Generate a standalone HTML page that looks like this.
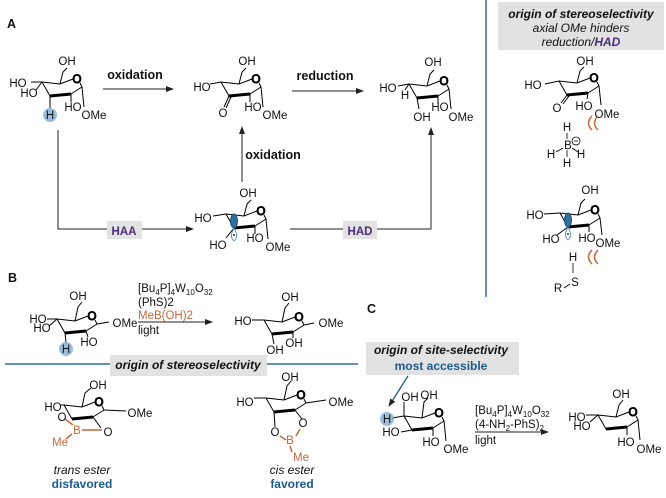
<!DOCTYPE html>
<html><head><meta charset="utf-8"><style>
html,body{margin:0;padding:0;background:#fff;}
svg{display:block;}
text{font-family:"Liberation Sans",Arial,sans-serif;font-size:11.5px;fill:#111;}
.b{font-weight:bold;font-size:12.5px;}
.m{text-anchor:middle;}
.or{fill:#c0693a;}
.bl{fill:#1d5a8c;font-weight:bold;}
.pu{fill:#4a2c7e;font-weight:bold;}
.bi{font-weight:bold;font-style:italic;}
.it{font-style:italic;}
</style></head><body>
<svg width="666" height="498" viewBox="0 0 666 498" xmlns="http://www.w3.org/2000/svg">
<defs>
<g id="ch">
<path d="M0,0L8,14M29,12L40,5L38,1M31,-3L18,2L0,0" fill="none" stroke="#000" stroke-width="1"/>
<path d="M8,14L29,12" stroke="#000" stroke-width="3"/>
<text x="35" y="1" class="m">O</text>
</g>
<marker id="ar" markerWidth="8" markerHeight="6" refX="7" refY="3" orient="auto" markerUnits="userSpaceOnUse"><path d="M0,0L8,3L0,6z" fill="#222"/></marker>
</defs>

<!-- Section A -->
<text x="7" y="28" class="b">A</text>

<!-- A1 -->
<g transform="translate(42,82)" stroke="#000" fill="none">
<use href="#ch"/>
<path d="M18,2L21,-10L25,-14M0,0L-11,0M0,0L-6,8M8,14L8,26M29,12L29,20M40,5L42,25"/>
</g>
<circle cx="50" cy="115" r="7" fill="#7eaed0" opacity="0.8"/>
<text x="67" y="65" class="m">OH</text><text x="18" y="87" class="m">HO</text><text x="29" y="97" class="m">HO</text>
<text x="50" y="119" class="m">H</text><text x="73" y="111" class="m">HO</text><text x="94" y="119" class="m">OMe</text>

<text x="135" y="79" class="b m">oxidation</text>
<line x1="103" y1="89" x2="173" y2="89" stroke="#222" marker-end="url(#ar)"/>

<!-- A2 -->
<g transform="translate(221,82)" stroke="#000" fill="none">
<use href="#ch"/>
<path d="M18,2L21,-10L25,-14M0,0L-11,2M8,14L3,25M10,15L5,26M29,12L29,20M40,5L42,25"/>
</g>
<text x="247" y="65" class="m">OH</text><text x="202" y="91" class="m">HO</text><text x="223" y="117" class="m">O</text>
<text x="253" y="111" class="m">HO</text><text x="275" y="119" class="m">OMe</text>

<text x="325" y="80" class="b m">reduction</text>
<line x1="292" y1="91" x2="363" y2="91" stroke="#222" marker-end="url(#ar)"/>

<!-- A3 -->
<g transform="translate(409,84)" stroke="#000" fill="none">
<use href="#ch"/>
<path d="M18,2L21,-10L25,-14M0,0L-11,2M0,0L-4,6M8,14L10,25M29,12L29,20M40,5L42,25"/>
</g>
<text x="433" y="66" class="m">OH</text><text x="388" y="92" class="m">HO</text><text x="405" y="99" class="m">H</text>
<text x="422" y="121" class="m">OH</text><text x="440" y="111" class="m">HO</text><text x="461" y="121" class="m">OMe</text>

<!-- vertical oxidation -->
<line x1="242" y1="182" x2="242" y2="127" stroke="#222" marker-end="url(#ar)"/>
<text x="273" y="159" class="b m">oxidation</text>

<!-- HAA path -->
<path d="M58,130L58,229L193,229" fill="none" stroke="#222" marker-end="url(#ar)"/>
<rect x="107" y="221" width="35" height="18" fill="#e2e2e2"/>
<text x="124" y="235" class="pu m">HAA</text>

<!-- A4 -->
<g transform="translate(226,214)" stroke="#000" fill="none">
<use href="#ch"/>
<path d="M18,2L21,-10L25,-14M0,0L-13,2M8,14L0,24M29,12L29,20M40,5L42,25"/>
<ellipse cx="8" cy="7" rx="3.5" ry="7" fill="#2f6f9f" stroke="#1d4f77"/>
<path d="M8,14 Q3,23 8,27 Q13,23 8,14" stroke="#3b82b8" stroke-width="0.8"/>
</g>
<circle cx="234" cy="235" r="0.9" fill="#000"/>
<text x="248" y="197" class="m">OH</text><text x="203" y="222" class="m">HO</text><text x="218" y="249" class="m">HO</text>
<text x="255" y="242" class="m">HO</text><text x="278" y="251" class="m">OMe</text>

<!-- HAD path -->
<path d="M290,229L431,229L431,128" fill="none" stroke="#222" marker-end="url(#ar)"/>
<rect x="343" y="221" width="34" height="18" fill="#e2e2e2"/>
<text x="360" y="235" class="pu m">HAD</text>

<!-- vertical blue line -->
<line x1="486" y1="0" x2="486" y2="297" stroke="#2e6f9a" stroke-width="1.5"/>

<!-- right panel -->
<rect x="498" y="2" width="166" height="48" fill="#e2e2e2"/>
<text x="581" y="18" class="bi m" style="font-size:12px">origin of stereoselectivity</text>
<text x="581" y="32" class="it m" style="font-size:12px">axial OMe hinders</text>
<text x="581" y="46" class="it m" style="font-size:12px">reduction/<tspan class="pu">HAD</tspan></text>

<g transform="translate(559,81)" stroke="#000" fill="none">
<use href="#ch"/>
<path d="M18,2L21,-10L25,-14M0,0L-14,3M8,14L2,22M10,15L4,23M29,12L28,18M40,5L42,24"/>
</g>
<text x="585" y="65" class="m">OH</text><text x="533" y="89" class="m">HO</text><text x="557" y="112" class="m">O</text>
<text x="584" y="110" class="m">HO</text><text x="607" y="118" class="m">OMe</text>
<path d="M592,116Q585,123 592,130M598,116Q591,123 598,130" fill="none" stroke="#c0693a" stroke-width="1.5"/>
<text x="567" y="131" class="m">H</text><text x="568" y="149" class="m">B</text>
<circle cx="576" cy="141" r="4" fill="none" stroke="#000" stroke-width="0.8"/><line x1="574" y1="141" x2="578" y2="141" stroke="#000" stroke-width="0.8"/>
<text x="551" y="158" class="m">H</text><text x="581" y="158" class="m">H</text><text x="567" y="167" class="m">H</text>
<path d="M567,133L567,139M567,150L567,157M563,148L556,152M572,148L578,152" stroke="#000" stroke-width="0.8"/>

<g transform="translate(560,213)" stroke="#000" fill="none">
<use href="#ch"/>
<path d="M18,2L21,-10L25,-14M0,0L-16,1M8,14L-3,22M29,12L29,19M40,5L42,22"/>
<ellipse cx="8" cy="7" rx="3.5" ry="7" fill="#2f6f9f" stroke="#1d4f77"/>
<path d="M8,14 Q3,23 8,27 Q13,23 8,14" stroke="#3b82b8" stroke-width="0.8"/>
</g>
<circle cx="568" cy="234" r="0.9" fill="#000"/>
<text x="590" y="194" class="m">OH</text><text x="535" y="219" class="m">HO</text><text x="551" y="243" class="m">HO</text>
<text x="587" y="242" class="m">HO</text><text x="608" y="247" class="m">OMe</text>
<path d="M592,250Q585,257 592,264M598,250Q591,257 598,264" fill="none" stroke="#c0693a" stroke-width="1.5"/>
<text x="573" y="261" class="m">H</text><text x="575" y="286" class="m">S</text><text x="558" y="292" class="m">R</text>
<path d="M573,263L573,273M564,288L570,284" stroke="#000" stroke-width="0.8"/>

<!-- Section B -->
<text x="8" y="282" class="b">B</text>
<g transform="translate(57,319)" stroke="#000" fill="none">
<use href="#ch"/>
<path d="M18,2L21,-12L25,-17M0,0L-10,0M0,0L-8,7M8,14L9,24M29,12L31,18M40,5L52,3"/>
</g>
<circle cx="66" cy="349" r="7" fill="#7eaed0" opacity="0.8"/>
<text x="78" y="300" class="m">OH</text><text x="38" y="323" class="m">HO</text><text x="42" y="332" class="m">HO</text>
<text x="66" y="353" class="m">H</text><text x="89" y="346" class="m">HO</text><text x="125" y="327" class="m">OMe</text>

<text x="138" y="292">[Bu<tspan dy="3" font-size="8">4</tspan><tspan dy="-3">P]</tspan><tspan dy="3" font-size="8">4</tspan><tspan dy="-3">W</tspan><tspan dy="3" font-size="8">10</tspan><tspan dy="-3">O</tspan><tspan dy="3" font-size="8">32</tspan></text>
<text x="138" y="306">(PhS)2</text>
<text x="138" y="319" class="or">MeB(OH)2</text>
<text x="138" y="334">light</text>
<line x1="138" y1="322" x2="212" y2="322" stroke="#222" marker-end="url(#ar)"/>

<g transform="translate(264,320)" stroke="#000" fill="none">
<use href="#ch"/>
<path d="M18,2L21,-12L25,-17M0,0L-12,0M8,14L10,24M29,12L29,18M40,5L50,3"/>
</g>
<text x="290" y="301" class="m">OH</text><text x="243" y="325" class="m">HO</text><text x="331" y="327" class="m">OMe</text>
<text x="275" y="354" class="m">OH</text><text x="294" y="347" class="m">OH</text>

<line x1="5" y1="364" x2="358" y2="364" stroke="#2e6f9a" stroke-width="1.5"/>
<rect x="110" y="355" width="157" height="21" fill="#e2e2e2"/>
<text x="188" y="369" class="bi m" style="font-size:12px">origin of stereoselectivity</text>

<!-- trans ester -->
<g transform="translate(64,405)" stroke="#000" fill="none">
<use href="#ch"/>
<path d="M18,2L21,-12L27,-17M0,0L-4,0M40,5L62,6M29,12L37,23"/>
</g>
<path d="M65,419L73,425M82,430L102,430M72,434L66,439" stroke="#c0693a" stroke-width="1.5"/>
<text x="98" y="389" class="m">OH</text><text x="53" y="411" class="m">HO</text><text x="140" y="417" class="m">OMe</text>
<text x="62" y="421" class="m">O</text><text x="77" y="434" class="or m">B</text><text x="108" y="436" class="m">O</text>
<text x="60" y="446" class="or m">Me</text>
<text x="82" y="474" class="it m" style="font-size:12px">trans ester</text>
<text x="82" y="488" class="bl m" style="font-size:12px">disfavored</text>

<!-- cis ester -->
<g transform="translate(266,398)" stroke="#000" fill="none">
<use href="#ch"/>
<path d="M18,2L21,-12L25,-17M0,0L-12,0M8,14L9,29M29,12L36,21M40,5L60,2"/>
</g>
<path d="M280,436L286,440M296,436L300,429M290,446L292,452" stroke="#c0693a" stroke-width="1.5"/>
<text x="290" y="381" class="m">OH</text><text x="245" y="406" class="m">HO</text><text x="341" y="406" class="m">OMe</text>
<text x="275" y="436" class="m">O</text><text x="303" y="427" class="m">O</text>
<text x="290" y="444" class="or m">B</text><text x="301" y="461" class="or m">Me</text>
<text x="292" y="474" class="it m" style="font-size:12px">cis ester</text>
<text x="292" y="488" class="bl m" style="font-size:12px">favored</text>

<!-- Section C -->
<text x="367" y="313" class="b">C</text>
<rect x="366" y="342" width="153" height="33" fill="#e2e2e2"/>
<text x="441" y="354" class="bi m" style="font-size:12px">origin of site-selectivity</text>
<text x="441" y="370" class="bl m" style="font-size:12px">most accessible</text>
<line x1="408" y1="376" x2="389" y2="406" stroke="#1d5a8c" stroke-width="1.3" marker-end="url(#ar)"/>

<g transform="translate(404,416)" stroke="#000" fill="none">
<use href="#ch"/>
<path d="M18,2L20,-14L24,-18M0,0L-12,2M0,0L0,-14M8,14L-3,16M29,12L29,20M40,5L42,25"/>
</g>
<circle cx="387" cy="419" r="7" fill="#7eaed0" opacity="0.8"/>
<text x="387" y="423" class="m">H</text>
<text x="410" y="401" class="m">OH</text><text x="429" y="399" class="m">OH</text>
<text x="391" y="436" class="m">HO</text><text x="431" y="446" class="m">HO</text><text x="456" y="453" class="m">OMe</text>

<text x="475" y="414">[Bu<tspan dy="3" font-size="8">4</tspan><tspan dy="-3">P]</tspan><tspan dy="3" font-size="8">4</tspan><tspan dy="-3">W</tspan><tspan dy="3" font-size="8">10</tspan><tspan dy="-3">O</tspan><tspan dy="3" font-size="8">32</tspan></text>
<text x="475" y="428">(4-NH<tspan dy="3" font-size="8">2</tspan><tspan dy="-3">-PhS)</tspan><tspan dy="3" font-size="8">2</tspan></text>
<text x="475" y="444">light</text>
<line x1="475" y1="432" x2="548" y2="432" stroke="#222" marker-end="url(#ar)"/>

<g transform="translate(598,415)" stroke="#000" fill="none">
<use href="#ch"/>
<path d="M18,2L21,-10L25,-15M0,0L-12,0M0,0L-8,7M29,12L29,20M40,5L42,25"/>
</g>
<text x="621" y="398" class="m">OH</text><text x="577" y="421" class="m">HO</text><text x="582" y="430" class="m">HO</text>
<text x="626" y="446" class="m">HO</text><text x="649" y="453" class="m">OMe</text>
</svg>
</body></html>
